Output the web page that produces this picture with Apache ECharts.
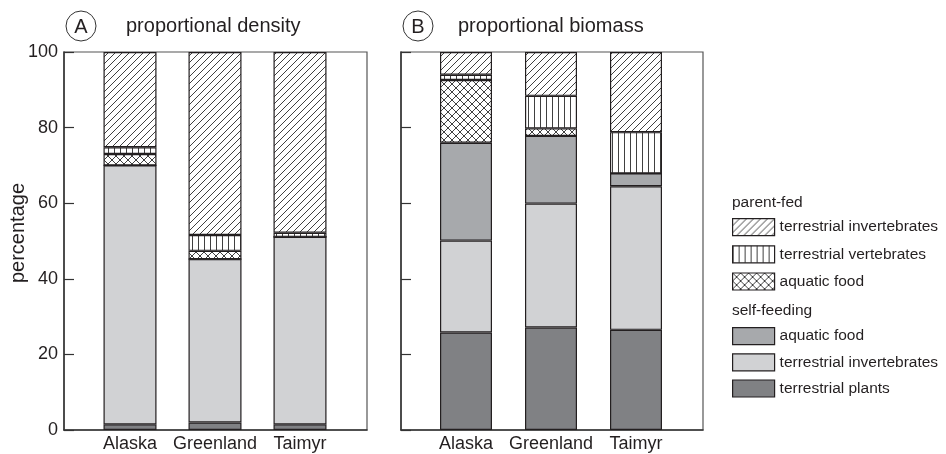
<!DOCTYPE html>
<html>
<head>
<meta charset="utf-8">
<script src="https://cdn.jsdelivr.net/npm/echarts@6/dist/echarts.min.js"></script>
<style>html,body{margin:0;padding:0;background:#fff}#c{width:946px;height:454px}</style>
</head>
<body>
<div id="c"></div>
<script>
// ---- data ----
const categories = ['Alaska', 'Greenland', 'Taimyr'];
const yTicks = [0, 20, 40, 60, 80, 100];
// A: proportional density (%)
const densSelfPlants = [1.5, 2.0, 1.5];
const densSelfInvert = [68.5, 43.2, 49.6];
const densSelfAquatic = [0, 0, 0];
const densParentAquatic = [3.0, 2.2, 0];
const densParentVert = [1.8, 4.2, 1.1];
const densParentInvert = [25.2, 48.4, 47.8];
// B: proportional biomass (%)
const bioSelfPlants = [25.8, 27.1, 26.5];
const bioSelfInvert = [24.3, 32.8, 38.0];
const bioSelfAquatic = [25.9, 17.9, 3.4];
const bioParentAquatic = [16.6, 2.0, 0];
const bioParentVert = [1.4, 8.6, 10.9];
const bioParentInvert = [6.0, 11.6, 21.2];

// ---- patterns ----
function makePattern(kind) {
  const s = kind === 'diag' ? 7 : kind === 'vert' ? 6 : 8;
  const c = document.createElement('canvas');
  c.width = s; c.height = s;
  const g = c.getContext('2d');
  g.fillStyle = '#ffffff'; g.fillRect(0, 0, s, s);
  g.strokeStyle = '#2a2a2a'; g.lineWidth = 0.9;
  g.beginPath();
  if (kind === 'diag' || kind === 'cross') {
    for (let k = -1; k <= 1; k++) { g.moveTo(k * s, s); g.lineTo(k * s + s, 0); }
  }
  if (kind === 'cross') {
    for (let k = -1; k <= 1; k++) { g.moveTo(k * s, 0); g.lineTo(k * s + s, s); }
  }
  if (kind === 'vert') { g.moveTo(0.5, 0); g.lineTo(0.5, s); }
  g.stroke();
  return { image: c, repeat: 'repeat' };
}
const pDiag = makePattern('diag');
const pVert = makePattern('vert');
const pCross = makePattern('cross');

const seriesDefs = [
  { name: 's|terrestrial plants', color: '#808184', a: densSelfPlants, b: bioSelfPlants },
  { name: 's|terrestrial invertebrates', color: '#d1d2d4', a: densSelfInvert, b: bioSelfInvert },
  { name: 's|aquatic food', color: '#a7a9ac', a: densSelfAquatic, b: bioSelfAquatic },
  { name: 'p|aquatic food', color: pCross, a: densParentAquatic, b: bioParentAquatic },
  { name: 'p|terrestrial vertebrates', color: pVert, a: densParentVert, b: bioParentVert },
  { name: 'p|terrestrial invertebrates', color: pDiag, a: densParentInvert, b: bioParentInvert }
];

const series = [];
seriesDefs.forEach(d => {
  [['a', 1, 53, 'A'], ['b', 3, 52, 'B']].forEach(([key, gi, bw, st]) => {
    series.push({
      type: 'bar', name: d.name, stack: st,
      xAxisIndex: gi, yAxisIndex: gi,
      barWidth: bw, data: d[key],
      itemStyle: { color: d.color, borderColor: '#231f20', borderWidth: 1.2 },
      emphasis: { disabled: true }, animation: false
    });
  });
});

const font = "'Liberation Sans', Arial, Helvetica, sans-serif";
const txt = '#231f20';
const frameX = gi => ({ gridIndex: gi, type: 'value', min: 0, max: 1, axisLabel: { show: false }, axisTick: { show: false }, splitLine: { show: false }, axisLine: { lineStyle: { color: '#333', width: 1.5 } } });
const barX = gi => ({ gridIndex: gi, type: 'category', data: categories, axisLine: { show: false }, axisTick: { show: false }, axisLabel: { interval: 0, hideOverlap: false, fontSize: 18, color: txt, fontFamily: font, margin: 5 } });
const frameY = (gi, labels) => ({
  gridIndex: gi, type: 'value', min: yTicks[0], max: yTicks[yTicks.length - 1], interval: 20,
  axisLine: { show: true, lineStyle: { color: '#333', width: 1.5 } },
  axisTick: { show: true, inside: true, length: 10, lineStyle: { color: '#333', width: 1.2 } },
  axisLabel: { show: labels, fontSize: 18, color: txt, fontFamily: font, margin: 6 },
  splitLine: { show: false }
});
const barY = gi => ({ gridIndex: gi, type: 'value', min: 0, max: 100, show: false, splitLine: { show: false } });

const legendCommon = {
  orient: 'vertical', left: 732, padding: 0, itemWidth: 42, itemHeight: 17,
  icon: 'rect', selectedMode: false,
  textStyle: { fontSize: 15.5, color: txt, fontFamily: font },
  formatter: n => n.split('|')[1],
  itemStyle: { borderColor: '#231f20', borderWidth: 1.2 }
};

const option = {
  backgroundColor: '#fff',
  animation: false,
  grid: [
    { left: 64, top: 52, width: 303, height: 378, show: true, borderColor: '#555', borderWidth: 1.2 },
    { left: 87.5, top: 52, width: 255, height: 378 },
    { left: 401, top: 52, width: 302, height: 378, show: true, borderColor: '#555', borderWidth: 1.2 },
    { left: 423.5, top: 52, width: 255, height: 378 }
  ],
  xAxis: [frameX(0), barX(1), frameX(2), barX(3)],
  yAxis: [frameY(0, true), barY(1), frameY(2, false), barY(3)],
  legend: [
    Object.assign({}, legendCommon, { top: 218, itemGap: 9, data: ['p|terrestrial invertebrates', 'p|terrestrial vertebrates', 'p|aquatic food'] }),
    Object.assign({}, legendCommon, { top: 327, itemGap: 8, data: ['s|aquatic food', 's|terrestrial invertebrates', 's|terrestrial plants'] })
  ],
  graphic: [
    { type: 'text', x: 18, y: 233, rotation: Math.PI / 2, style: { text: 'percentage', fontSize: 20, fontFamily: font, fill: txt, align: 'center', verticalAlign: 'middle' } },
    { type: 'circle', shape: { cx: 81, cy: 26, r: 15 }, style: { fill: 'none', stroke: '#333', lineWidth: 1 } },
    { type: 'text', x: 81, y: 27, style: { text: 'A', fontSize: 20, fontFamily: font, fill: txt, align: 'center', verticalAlign: 'middle' } },
    { type: 'text', x: 126, y: 26, style: { text: 'proportional density', fontSize: 20, fontFamily: font, fill: txt, align: 'left', verticalAlign: 'middle' } },
    { type: 'circle', shape: { cx: 418, cy: 26, r: 15 }, style: { fill: 'none', stroke: '#333', lineWidth: 1 } },
    { type: 'text', x: 418, y: 27, style: { text: 'B', fontSize: 20, fontFamily: font, fill: txt, align: 'center', verticalAlign: 'middle' } },
    { type: 'text', x: 458, y: 26, style: { text: 'proportional biomass', fontSize: 20, fontFamily: font, fill: txt, align: 'left', verticalAlign: 'middle' } },
    { type: 'text', x: 732, y: 203, style: { text: 'parent-fed', fontSize: 15.5, fontFamily: font, fill: txt, align: 'left', verticalAlign: 'middle' } },
    { type: 'text', x: 732, y: 311, style: { text: 'self-feeding', fontSize: 15.5, fontFamily: font, fill: txt, align: 'left', verticalAlign: 'middle' } }
  ],
  series: series
};

const chart = echarts.init(document.getElementById('c'), null, { renderer: 'canvas' });
chart.setOption(option);
</script>
</body>
</html>
